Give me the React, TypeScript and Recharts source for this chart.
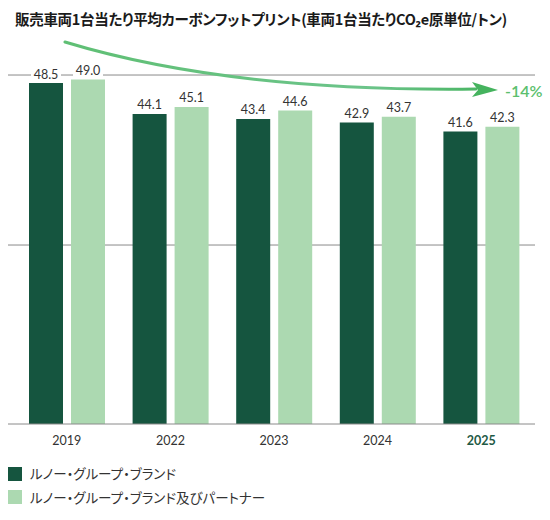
import React from 'react';
import { BarChart, Bar, XAxis, YAxis, CartesianGrid, LabelList, Legend } from 'recharts';

const years = ['2019', '2022', '2023', '2024', '2025'];
const renaultGroupBrands = [48.5, 44.1, 43.4, 42.9, 41.6];
const brandsAndPartners = [49.0, 45.1, 44.6, 43.7, 42.3];
const gridValues = [25.46, 49.64];
const seriesNames = ['ルノー・グループ・ブランド', 'ルノー・グループ・ブランド及びパートナー'];
const seriesColors = ['#15553f', '#acd9b1'];
const title = '販売車両1台当たり平均カーボンフットプリント(車両1台当たりCO₂e原単位/トン)';
const changeLabel = '-14%';
const highlightYear = '2025';

const data = years.map((year, i) => ({
  year,
  group: renaultGroupBrands[i],
  partners: brandsAndPartners[i],
}));

const NUM_FONT = 'Lato, "Noto Sans", sans-serif';
const JP_FONT = '"Noto Sans CJK JP", "Noto Sans", sans-serif';

const ValueLabel = (props: any) => {
  const { x, y, width, value } = props;
  const cx = Number(x) + Number(width) / 2;
  const cy = Number(y) - 9;
  return (
    <g>
      <rect x={cx - 15} y={cy - 7} width={30} height={14} fill="#ffffff" />
      <text
        x={cx}
        y={cy}
        textAnchor="middle"
        dominantBaseline="central"
        fontSize={12.5}
        fontFamily={NUM_FONT}
        fill="#333333"
      >
        {Number(value).toFixed(1)}
      </text>
    </g>
  );
};

const YearTick = (props: any) => {
  const { x, y, payload } = props;
  const hl = payload.value === highlightYear;
  return (
    <text
      x={x}
      y={Number(y) + 16}
      textAnchor="middle"
      dominantBaseline="central"
      fontSize={12.5}
      fontFamily={NUM_FONT}
      fontWeight={hl ? 700 : 400}
      fill={hl ? '#1f5a46' : '#333333'}
    >
      {payload.value}
    </text>
  );
};

const LegendContent = (props: any) => {
  const payload = props.payload || [];
  return (
    <div style={{ height: 46, fontFamily: JP_FONT }}>
      {payload.map((p: any) => (
        <div key={p.value} style={{ display: 'flex', alignItems: 'center', height: 23.5 }}>
          <span style={{ display: 'inline-block', width: 14, height: 14, background: p.color, marginRight: 8 }} />
          <span
            style={{
              fontSize: 13.5,
              color: '#333333',
              lineHeight: 1,
              fontFeatureSettings: '"palt"',
              letterSpacing: 0,
            }}
          >
            {p.value}
          </span>
        </div>
      ))}
    </div>
  );
};

export default function App() {
  return (
    <div style={{ position: 'absolute', left: 0, top: 0, width: 550, height: 520, background: '#fff' }}>
      <BarChart
        width={550}
        height={520}
        data={data}
        margin={{ top: 72.5, right: 15, bottom: 20, left: 8 }}
        barSize={34}
        barGap={8}
      >
        <CartesianGrid vertical={false} horizontalValues={gridValues} stroke="#8a8a8a" />
        <YAxis hide domain={[0, 50]} />
        <XAxis
          dataKey="year"
          tickLine={false}
          tickSize={0}
          tickMargin={0}
          height={30}
          axisLine={{ stroke: '#8a8a8a' }}
          padding={{ left: 7, right: 2 }}
          tick={<YearTick />}
          interval={0}
        />
        <Legend
          content={<LegendContent />}
          verticalAlign="bottom"
          align="left"
          layout="horizontal"
          wrapperStyle={{ left: 8, top: 462, bottom: 'auto', width: 320 }}
        />
        <Bar dataKey="group" name={seriesNames[0]} fill={seriesColors[0]} isAnimationActive={false}>
          <LabelList dataKey="group" content={<ValueLabel />} />
        </Bar>
        <Bar dataKey="partners" name={seriesNames[1]} fill={seriesColors[1]} isAnimationActive={false}>
          <LabelList dataKey="partners" content={<ValueLabel />} />
        </Bar>
      </BarChart>
      <div
        style={{
          position: 'absolute',
          left: 15,
          top: 11,
          fontFamily: JP_FONT,
          fontWeight: 700,
          fontSize: 14.5,
          lineHeight: '16px',
          fontFeatureSettings: '"palt"',
          letterSpacing: -0.3,
          color: '#1a1a1a',
          whiteSpace: 'nowrap',
        }}
      >
        {title}
      </div>
      <svg
        width={550}
        height={520}
        style={{ position: 'absolute', left: 0, top: 0, pointerEvents: 'none' }}
      >
        <defs>
          <linearGradient id="arrowGrad" gradientUnits="userSpaceOnUse" x1={65} y1={0} x2={498} y2={0}>
            <stop offset="0" stopColor="#5fbf74" />
            <stop offset="0.7" stopColor="#6cc48a" />
            <stop offset="1" stopColor="#45b35e" />
          </linearGradient>
        </defs>
        <path d="M 65 42 Q 230 92 476 89" fill="none" stroke="url(#arrowGrad)" strokeWidth={3} strokeLinecap="round" />
        <path d="M 498 90 L 472 82 L 478 90 L 472 97 Z" fill="#45b35e" />
        <text
          x={505}
          y={90}
          dominantBaseline="central"
          fontSize={16}
          fontFamily={NUM_FONT}
          fontWeight={600}
          fill="#5cbf6e"
        >
          {changeLabel}
        </text>
      </svg>
    </div>
  );
}
